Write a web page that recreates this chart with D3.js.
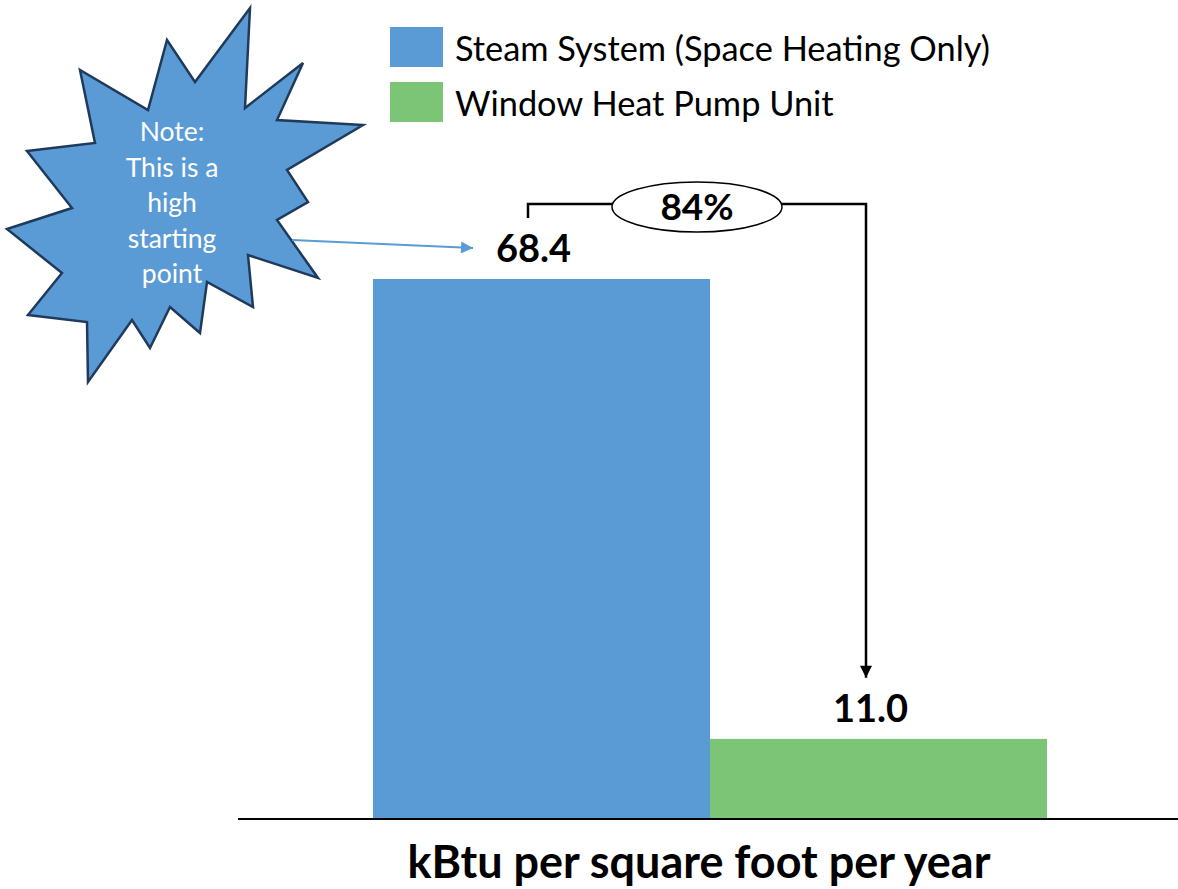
<!DOCTYPE html>
<html>
<head>
<meta charset="utf-8">
<script src="https://cdn.jsdelivr.net/npm/d3@7"></script>
<style>
  body { margin: 0; background: #fff; }
  text { font-family: Lato, "Open Sans", sans-serif; }
</style>
</head>
<body>
<svg id="chart" width="1178" height="889"></svg>
<script>
const seriesNames = ["Steam System (Space Heating Only)", "Window Heat Pump Unit"];
const seriesValues = [68.4, 11.0];
const seriesColors = ["#5B9BD5", "#7CC576"];
const axisTitle = "kBtu per square foot per year";
const noteLines = ["Note:", "This is a", "high", "starting", "point"];

const svg = d3.select("#chart");

const baseY = 819;
const x = d3.scaleBand().domain(seriesNames).range([373, 1047]).padding(0);
const y = d3.scaleLinear().domain([0, 68.4]).range([827, 279]);

// shrink/grow a text so it spans a given width
function fitWidth(sel, target) {
  const node = sel.node();
  const fs = parseFloat(sel.attr("font-size"));
  const w = node.getComputedTextLength();
  sel.attr("font-size", fs * target / w);
}

// bars
svg.selectAll("rect.bar")
  .data(seriesNames)
  .join("rect")
  .attr("class", "bar")
  .attr("x", d => x(d))
  .attr("width", x.bandwidth())
  .attr("y", (d, i) => y(seriesValues[i]))
  .attr("height", (d, i) => baseY - y(seriesValues[i]))
  .attr("fill", (d, i) => seriesColors[i]);

// axis line
svg.append("line")
  .attr("x1", 238).attr("x2", 1178)
  .attr("y1", baseY).attr("y2", baseY)
  .attr("stroke", "#000").attr("stroke-width", 2);

// value labels
svg.selectAll("text.val")
  .data(seriesNames)
  .join("text")
  .attr("class", "val")
  .attr("x", d => x(d) + x.bandwidth() / 2 - 8)
  .attr("y", (d, i) => y(seriesValues[i]) - 17)
  .attr("text-anchor", "middle")
  .attr("font-size", 38)
  .attr("font-weight", "bold")
  .text((d, i) => seriesValues[i].toFixed(1));

// reduction bracket
const pct = Math.round((seriesValues[0] - seriesValues[1]) / seriesValues[0] * 100);
const leftX = 528, rightX = 866, topY = 204;
svg.append("defs").append("marker")
  .attr("id", "blackHead")
  .attr("viewBox", "0 0 10 10")
  .attr("refX", 10).attr("refY", 5)
  .attr("markerWidth", 16).attr("markerHeight", 12)
  .attr("markerUnits", "userSpaceOnUse")
  .attr("orient", "auto")
  .append("path").attr("d", "M0,0L10,5L0,10Z").attr("fill", "#000");

svg.append("path")
  .attr("d", `M${leftX},218V${topY}H${rightX}V${y(seriesValues[1]) - 61}`)
  .attr("fill", "none")
  .attr("stroke", "#000")
  .attr("stroke-width", 2.5)
  .attr("marker-end", "url(#blackHead)");

svg.append("ellipse")
  .attr("cx", 697).attr("cy", 207)
  .attr("rx", 85).attr("ry", 25)
  .attr("fill", "#fff").attr("stroke", "#000").attr("stroke-width", 1.5);

svg.append("text")
  .attr("x", 697).attr("y", 220)
  .attr("text-anchor", "middle")
  .attr("font-size", 37)
  .attr("font-weight", "bold")
  .text(pct + "%");

// legend
const legend = svg.append("g");
seriesNames.forEach((name, i) => {
  legend.append("rect")
    .attr("x", 390).attr("y", 27 + i * 55)
    .attr("width", 53).attr("height", 40)
    .attr("fill", seriesColors[i]);
});
const lt0 = legend.append("text").attr("x", 455).attr("y", 61)
  .attr("font-size", 30).text(seriesNames[0]);
fitWidth(lt0, 535);
legend.append("text").attr("x", 455).attr("y", 116)
  .attr("font-size", lt0.attr("font-size")).text(seriesNames[1]);

// starburst note
const star = [
  [250, 8], [245, 108], [303, 63], [277, 120], [363, 125], [287, 170],
  [308, 202], [277, 220], [318, 278], [248, 255], [253, 307], [207, 282],
  [200, 333], [170, 307], [150, 348], [132, 320], [88, 382], [87, 322],
  [28, 315], [62, 273], [7, 229], [72, 208], [27, 151], [95, 143],
  [80, 70], [148, 110], [167, 40], [195, 82]
];
svg.append("path")
  .attr("d", d3.line()(star) + "Z")
  .attr("fill", "#5B9BD5")
  .attr("stroke", "#1F3A5A")
  .attr("stroke-width", 2.5)
  .attr("stroke-linejoin", "miter");

svg.selectAll("text.note")
  .data(noteLines)
  .join("text")
  .attr("class", "note")
  .attr("x", 172)
  .attr("y", (d, i) => 141 + i * 35.5)
  .attr("text-anchor", "middle")
  .attr("font-size", 26.5)
  .attr("fill", "#fff")
  .text(d => d);

// pointer from note to first bar label
svg.select("defs").append("marker")
  .attr("id", "blueHead")
  .attr("viewBox", "0 0 10 10")
  .attr("refX", 10).attr("refY", 5)
  .attr("markerWidth", 14).attr("markerHeight", 12)
  .attr("markerUnits", "userSpaceOnUse")
  .attr("orient", "auto")
  .append("path").attr("d", "M0,0L10,5L0,10Z").attr("fill", "#5B9BD5");

svg.append("line")
  .attr("x1", 292).attr("y1", 240)
  .attr("x2", 473).attr("y2", 248)
  .attr("stroke", "#5B9BD5").attr("stroke-width", 2)
  .attr("marker-end", "url(#blueHead)");

// axis title
const at = svg.append("text")
  .attr("x", 699).attr("y", 878)
  .attr("text-anchor", "middle")
  .attr("font-size", 40)
  .attr("font-weight", "bold")
  .text(axisTitle);
fitWidth(at, 583);
</script>
</body>
</html>
